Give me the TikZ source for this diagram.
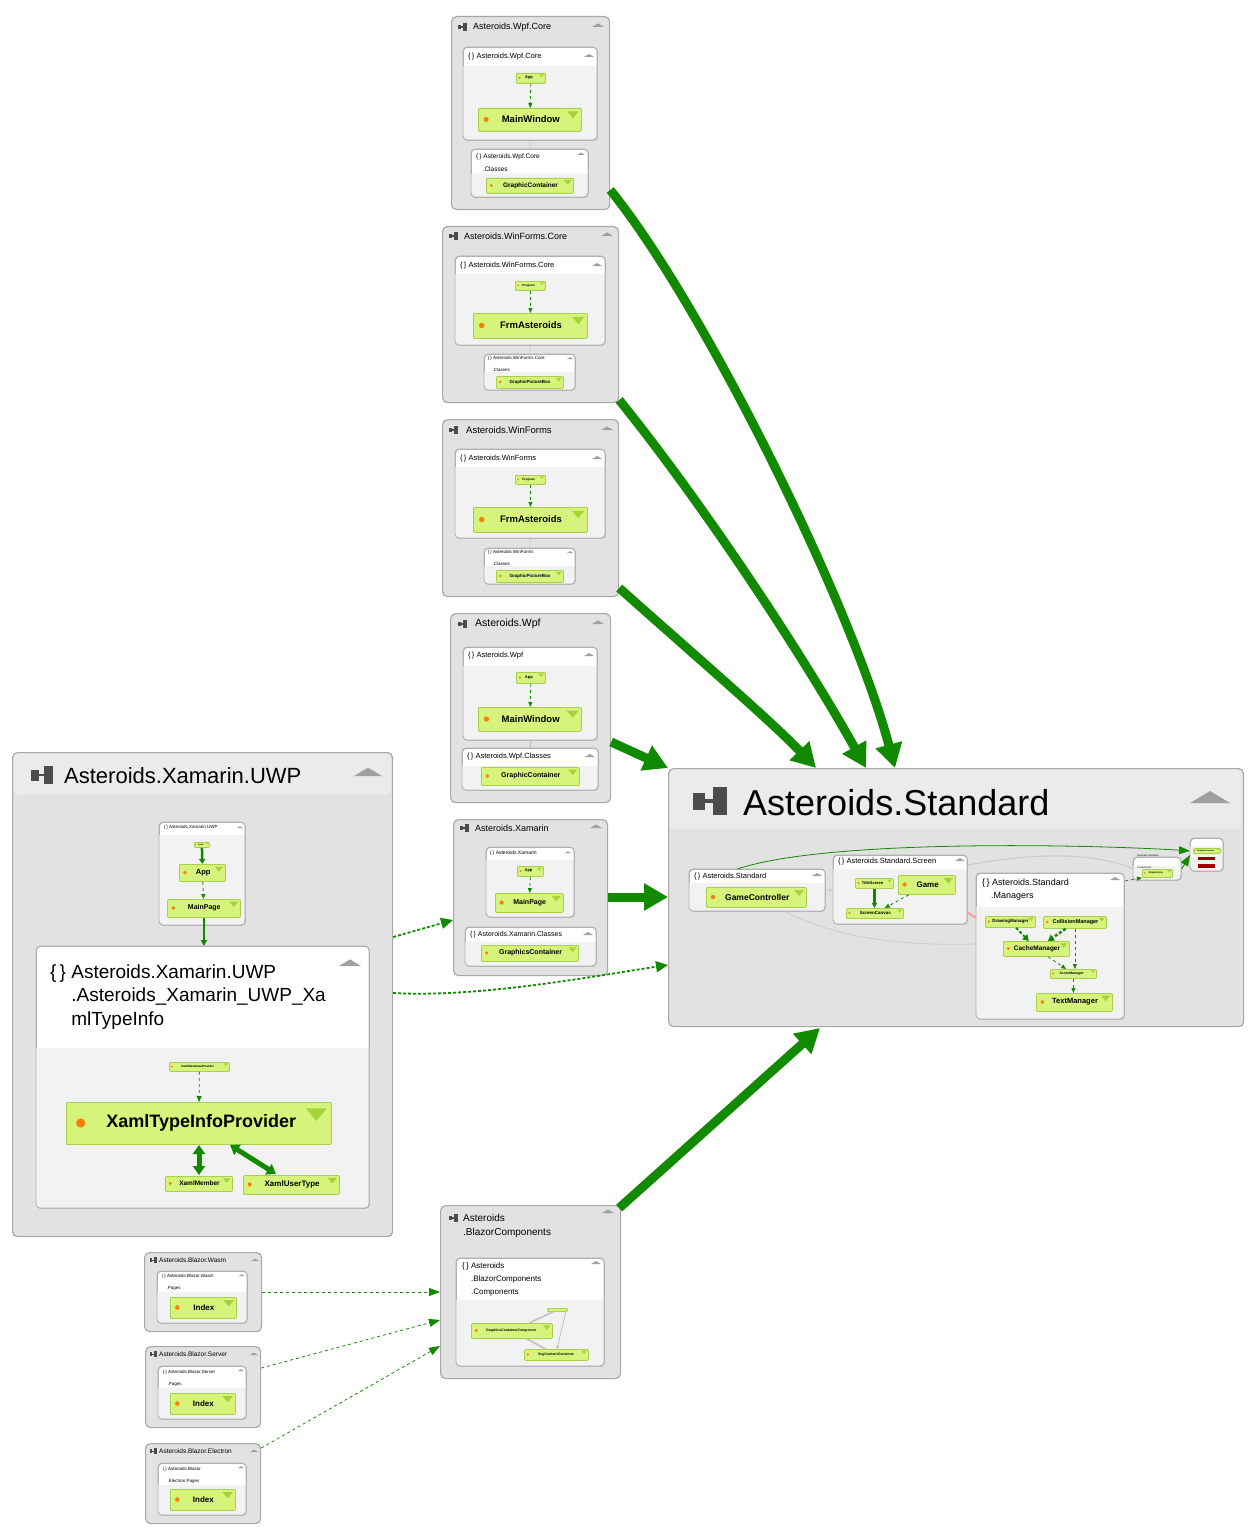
\documentclass[tikz,border=0pt]{standalone}
\usepackage{fontspec}
\setmainfont{Liberation Sans}
\usetikzlibrary{arrows.meta}
\definecolor{outerfill}{HTML}{E2E2E2}
\definecolor{outerdraw}{HTML}{A8A8A8}
\definecolor{nsbody}{HTML}{F2F2F2}
\definecolor{clsfill}{HTML}{D6F47C}
\definecolor{clsdraw}{HTML}{A9CF4C}
\definecolor{clstri}{HTML}{A6D23A}
\definecolor{eg}{HTML}{128A00}
\definecolor{tri}{HTML}{A0A0A0}
\newcommand\fs[1]{\fontsize{#1}{#1}\selectfont}
\tikzset{
  outer/.style={draw=outerdraw,fill=outerfill,rounded corners=5pt,line width=1.2pt,inner sep=0pt},
  ns/.style={draw=outerdraw!90,fill=white,rounded corners=4pt,line width=0.8pt,inner sep=0pt},
  cls/.style={draw=clsdraw,fill=clsfill,line width=0.8pt,inner sep=0pt,rounded corners=1pt},
  big/.style={-{Triangle[length=24pt,width=26pt]},line width=9pt,draw=eg},
  dep/.style={-{Triangle[length=12pt,width=11pt]},densely dashed,line width=1.8pt,draw=eg},
  thin/.style={-{Triangle[length=11pt,width=8pt]},dashed,line width=0.8pt,draw=eg},
  ttl/.style={anchor=west,inner sep=0pt,align=left},
}
\newcommand\ob[5]{\node[outer,anchor=north west,minimum width={(#4-#2)*1pt},minimum height={(#5-#3)*1pt}] (#1) at (#2,#3) {};}
\newcommand\nsb[6]{\node[ns,anchor=north west,minimum width={(#4-#2)*1pt},minimum height={(#5-#3)*1pt}] (#1) at (#2,#3) {};
  \fill[nsbody] (#2,#6) -- (#4,#6) [rounded corners=4pt]-- (#4,#5) -- (#2,#5) [sharp corners]-- cycle;
  \draw[outerdraw!90,rounded corners=4pt,line width=0.8pt] (#2,#3) rectangle (#4,#5);}
\newcommand\cls[7]{\node[cls,anchor=north west,minimum width={(#4-#2)*1pt},minimum height={(#5-#3)*1pt}] (#1) at (#2,#3) {};
  \fill[clstri] ({#4-(#5-#3)*0.6},{#3+(#5-#3)*0.15}) -- ({#4-(#5-#3)*0.1},{#3+(#5-#3)*0.15}) -- ({#4-(#5-#3)*0.35},{#3+(#5-#3)*0.45}) -- cycle;
  \fill[orange!85!brown] ({#2+(#5-#3)*0.35},{(#3+#5)/2}) circle ({(#5-#3)*0.11});
  \node[inner sep=0pt] at ({(#2+#4)/2-(#5-#3)*0.15},{(#3+#5)/2}) {\fs{#6}\bfseries #7};}
\newcommand\tri[3]{\fill[tri] ({#1-#3},#2) -- ({#1+#3},#2) -- (#1,{#2-#3*0.6}) -- cycle;}
\newcommand\ic[3]{\fill[black!70] (#1,{#2-#3*0.25}) rectangle ({#1+#3*0.35},{#2+#3*0.25});
  \fill[black!70] ({#1+#3*0.35},{#2-#3*0.06}) rectangle ({#1+#3*0.6},{#2+#3*0.06});
  \fill[black!70] ({#1+#3*0.6},{#2-#3*0.4}) rectangle ({#1+#3},{#2+#3*0.4});}
\begin{document}
\begin{tikzpicture}[x=1pt,y=-1pt]
\useasboundingbox (0,0) rectangle (1256,1538);
\fill[white] (0,0) rectangle (1256,1538);

% ---------- Asteroids.Wpf.Core
\ob{wpfcore}{451}{16}{609}{209}
\ic{458}{27}{9}\node[ttl] at (473,27) {\fs{9}Asteroids.Wpf.Core};\tri{598}{27}{6}
\nsb{wpfcorens}{463}{47}{597}{140}{66}
\node[ttl] at (468,57) {\fs{7.5}\{\,\} Asteroids.Wpf.Core};\tri{589}{57}{5}
\cls{wpfcoreapp}{516}{73}{545}{83}{4}{App}
\cls{wpfcoremw}{478}{108}{581}{131}{9.5}{\quad MainWindow}
\nsb{wpfcorecl}{471}{149}{588}{197}{174}
\node[ttl] at (476,163) {\fs{6.5}\{\,\} Asteroids.Wpf.Core\\[1pt]\fs{6.5}\quad .Classes};\tri{581}{155}{4}
\cls{wpfcoregc}{486}{178}{573}{193}{6.5}{\quad GraphicContainer}
\draw[thin,-{Triangle[length=5pt,width=4pt]}] (wpfcoreapp) -- (wpfcoremw);
\draw[gray!50] (wpfcorens) -- (wpfcorecl);

% ---------- Asteroids.WinForms.Core
\ob{wfcore}{442}{226}{618}{402}
\ic{449}{236}{9}\node[ttl] at (464,236) {\fs{9}Asteroids.WinForms.Core};\tri{607}{236}{6}
\nsb{wfcorens}{455}{256}{605}{345}{274}
\node[ttl] at (460,266) {\fs{7.5}\{\,\} Asteroids.WinForms.Core};\tri{597}{266}{5}
\cls{wfcoreprog}{515}{281}{545}{290}{3}{Program}
\cls{wfcorefrm}{473}{313}{587}{338}{9.5}{\quad FrmAsteroids}
\nsb{wfcorecl}{484}{354}{575}{390}{372}
\node[ttl] at (488,364) {\fs{4.5}\{\,\} Asteroids.WinForms.Core\\\fs{4.5}\quad .Classes};\tri{570}{359}{3}
\cls{wfcoregp}{496}{376}{563}{388}{4.5}{\quad GraphicPictureBox}
\draw[thin,-{Triangle[length=5pt,width=4pt]}] (wfcoreprog) -- (wfcorefrm);
\draw[gray!50] (wfcorens) -- (wfcorecl);

% ---------- Asteroids.WinForms
\ob{wf}{442}{419}{618}{596}
\ic{449}{430}{9}\node[ttl] at (466,430) {\fs{9.5}Asteroids.WinForms};\tri{607}{430}{6}
\nsb{wfns}{455}{449}{605}{538}{467}
\node[ttl] at (460,459) {\fs{7.5}\{\,\} Asteroids.WinForms};\tri{597}{459}{5}
\cls{wfprog}{515}{475}{545}{484}{3}{Program}
\cls{wffrm}{473}{507}{587}{532}{9.5}{\quad FrmAsteroids}
\nsb{wfcl}{484}{548}{575}{584}{566}
\node[ttl] at (488,558) {\fs{4.5}\{\,\} Asteroids.WinForms\\\fs{4.5}\quad .Classes};\tri{570}{553}{3}
\cls{wfgp}{496}{570}{563}{582}{4.5}{\quad GraphicPictureBox}
\draw[thin,-{Triangle[length=5pt,width=4pt]}] (wfprog) -- (wffrm);
\draw[gray!50] (wfns) -- (wfcl);

% ---------- Asteroids.Wpf
\ob{wpf}{450}{613}{610}{802}
\ic{458}{624}{9}\node[ttl] at (475,624) {\fs{10.5}Asteroids.Wpf};\tri{598}{624}{6}
\nsb{wpfns}{463}{647}{597}{740}{666}
\node[ttl] at (468,656) {\fs{7.5}\{\,\} Asteroids.Wpf};\tri{589}{656}{5}
\cls{wpfapp}{516}{672}{545}{683}{4}{App}
\cls{wpfmw}{478}{707}{581}{731}{9.5}{\quad MainWindow}
\nsb{wpfcl}{462}{748}{598}{790}{766}
\node[ttl] at (467,757) {\fs{7.5}\{\,\} Asteroids.Wpf.Classes};\tri{590}{757}{5}
\cls{wpfgc}{481}{767}{579}{785}{7}{\quad GraphicContainer}
\draw[thin,-{Triangle[length=5pt,width=4pt]}] (wpfapp) -- (wpfmw);
\draw[gray!50] (wpfns) -- (wpfcl);

% ---------- Asteroids.Xamarin
\ob{xam}{453}{819}{607}{975}
\ic{460}{828}{9}\node[ttl] at (475,828) {\fs{9}Asteroids.Xamarin};\tri{596}{828}{6}
\nsb{xamns}{486}{847}{574}{917}{860}
\node[ttl] at (490,853) {\fs{5}\{\,\} Asteroids.Xamarin};\tri{568}{853}{3}
\cls{xamapp}{517}{866}{543}{876}{4}{App}
\cls{xammp}{495}{893}{563}{912}{7}{\quad MainPage}
\nsb{xamcl}{465}{927}{596}{966}{942}
\node[ttl] at (470,935) {\fs{7}\{\,\} Asteroids.Xamarin.Classes};\tri{588}{935}{5}
\cls{xamgc}{481}{945}{578}{961}{7}{\quad GraphicsContainer}
\draw[thin,-{Triangle[length=5pt,width=4pt]}] (xamapp) -- (xammp);

% ---------- Asteroids.Standard
\ob{std}{668}{768}{1243}{1026}
\fill[white!92!black,rounded corners=5pt] (669.5,769.5) rectangle (1241.5,830);
\fill[outerfill] (669.5,829) rectangle (1241.5,840);
\ic{693}{801}{34}\node[ttl] at (743,803) {\fs{36}Asteroids.Standard};\tri{1210}{803}{20}
\nsb{stdns}{689}{869}{825}{911}{883}
\node[ttl] at (694,877) {\fs{7.5}\{\,\} Asteroids.Standard};\tri{817}{876}{5}
\cls{gc}{706}{887}{806}{907}{8.5}{\quad GameController}
\nsb{scr}{833}{855}{967}{924}{869}
\node[ttl] at (838,862) {\fs{7.5}\{\,\} Asteroids.Standard.Screen};\tri{960}{861}{5}
\cls{ts}{855}{878}{893}{888}{4}{TitleScreen}
\cls{game}{898}{875}{955}{894}{8}{\quad Game}
\cls{sc}{846}{908}{903}{918}{4.5}{\quad ScreenCanvas}
\nsb{mgr}{976}{873}{1124}{1019}{907}
\node[ttl] at (982,890) {\fs{9}\{\,\} Asteroids.Standard\\[1pt]\fs{9}\quad .Managers};\tri{1115}{880}{5}
\cls{dm}{985}{916}{1035}{927}{4.5}{\quad DrawingManager}
\cls{cm}{1043}{916}{1106}{928}{5.5}{\quad CollisionManager}
\cls{cam}{1003}{941}{1069}{956}{6.5}{\quad CacheManager}
\cls{sm}{1050}{969}{1096}{978}{3.5}{ScoreManager}
\cls{tm}{1036}{993}{1112}{1011}{7.5}{\quad TextManager}
\nsb{el}{1133}{857}{1181}{880}{866}
\node[ttl] at (1137,862) {\fs{2.5}Asteroids.Standard\\\fs{2.5}Components};
\cls{gl}{1142}{869}{1172}{877}{2.5}{GraphicLine}
\nsb{iface}{1190}{838}{1223}{871}{846}
\cls{ifc}{1193}{848}{1220}{853}{2}{IGraphicContainer}
\fill[red!60!black] (1198,857) rectangle (1215,860);
\fill[red!60!black] (1198,864) rectangle (1215,868);
\draw[-{Triangle[length=5pt,width=5pt]},line width=2.2pt,eg] (ts.south) -- (sc.north -| ts.south);
\draw[thin,-{Triangle[length=5pt,width=4pt]}] (game) -- (sc);
\draw[-{Triangle[length=6pt,width=7pt]},densely dashed,line width=2pt,eg] (dm) -- (cam);
\draw[-{Triangle[length=6pt,width=7pt]},densely dashed,line width=2.5pt,eg] (cm) -- (cam);
\draw[thin,-{Triangle[length=5pt,width=4pt]}] (cm.south) -- (sm.north -| cm.south);
\draw[thin,-{Triangle[length=5pt,width=4pt]}] (cam) -- (sm);
\draw[thin,-{Triangle[length=5pt,width=4pt]}] (sm) -- (sm |- tm.north);
\draw[thin,-{Triangle[length=5pt,width=4pt]}] (mgr.north east) ++(0,8) -- (gl.south west);
\draw[gray!40,line width=0.8pt,-{Triangle[length=4pt,width=3pt]}] (stdns) -- (scr);
\draw[gray!40,line width=0.8pt] (stdns.south east) ++(-40,0) .. controls (850,945) and (930,945) .. (mgr.west |- 0,944);
\draw[gray!40,line width=1.2pt] (scr.north east) ++(0,10) .. controls (1050,850) and (1100,855) .. (el.west);
\draw[thin,solid] (stdns.north) ++(-20,0) .. controls (830,838) and (1100,845) .. (iface.west |- ifc);
\draw[thin,solid] (el.east) -- (iface.west);
\draw[red!40,line width=2pt] (967,912) -- (976,918);

% ---------- Asteroids.Xamarin.UWP
\ob{uwp}{12}{752}{392}{1236}
\fill[white!92!black,rounded corners=5pt] (13.5,753.5) rectangle (390.5,795);
\ic{31}{775}{22}\node[ttl] at (64,776) {\fs{22}Asteroids.Xamarin.UWP};\tri{368}{776}{14}
\nsb{uwpns}{159}{822}{245}{925}{835}
\node[ttl] at (164,827) {\fs{4.5}\{\,\} Asteroids.Xamarin.UWP};\tri{240}{828}{3}
\cls{uwpfix}{194}{842}{209}{847}{2}{Fixed}
\cls{uwpapp}{179}{864}{225}{881}{7.5}{\quad App}
\cls{uwpmp}{167}{899}{240}{917}{7}{\quad MainPage}
\draw[-{Triangle[length=5pt,width=6pt]},line width=2.5pt,eg] (uwpfix) -- (uwpapp);
\draw[thin,-{Triangle[length=5pt,width=4pt]}] (uwpapp) -- (uwpmp);
\nsb{uwpxt}{36}{946}{369}{1208}{1048}
\node[ttl] at (50,997) {\fs{19}\{\,\} Asteroids.Xamarin.UWP\\[5pt]\fs{19}\phantom{\{\,\} }.Asteroids\_Xamarin\_UWP\_Xa\\[5pt]\fs{19}\phantom{\{\,\} }mlTypeInfo};\tri{350}{966}{11}
\cls{xmdp}{169}{1062}{229}{1071}{3}{XamlMetaDataProvider}
\cls{xtip}{66}{1102}{331}{1144}{18}{\quad XamlTypeInfoProvider}
\cls{xm}{165}{1176}{232}{1191}{6.5}{\quad XamlMember}
\cls{xut}{243}{1175}{339}{1194}{8}{\quad XamlUserType}
\draw[-{Triangle[length=6pt,width=6pt]},line width=2pt,eg] (uwpmp) -- (uwpxt.north -| uwpmp);
\draw[thin,-{Triangle[length=6pt,width=5pt]}] (xmdp) -- (xtip);
\draw[{Triangle[length=9pt,width=12pt]}-{Triangle[length=9pt,width=12pt]},line width=5pt,eg] (199,1145) -- (199,1175);
\draw[{Triangle[length=9pt,width=12pt]}-{Triangle[length=9pt,width=12pt]},line width=5pt,eg] (230,1145) -- (276,1174);

% ---------- BlazorComponents
\ob{bc}{440}{1205}{620}{1378}
\ic{449}{1218}{9}\node[ttl] at (463,1226) {\fs{10}Asteroids\\[2pt]\fs{10}.BlazorComponents};\tri{608}{1213}{6}
\nsb{bcns}{456}{1258}{604}{1366}{1300}
\node[ttl] at (462,1279) {\fs{8}\{\,\} Asteroids\\[1pt]\fs{8}\phantom{\{\,\} }.BlazorComponents\\[1pt]\fs{8}\phantom{\{\,\} }.Components};\tri{596}{1264}{5}
\cls{bctiny}{547}{1308}{567}{1311}{1.5}{}
\cls{gcc}{471}{1323}{552}{1338}{3.5}{\quad GraphicsContainerComponen}
\cls{svg}{524}{1349}{588}{1360}{3.5}{\quad SvgContentContainer}
\draw[gray!50,line width=1.5pt] (bctiny) -- (gcc);
\draw[gray!50,line width=0.8pt,-{Triangle[length=3pt,width=3pt]}] (bctiny.south east) ++(-2,0) -- (557,1349);
\draw[gray!50,line width=1.5pt] (gcc) -- (svg);

% ---------- Blazor clients
\ob{wasm}{144}{1252}{261}{1331}
\ic{150}{1260}{7}\node[ttl] at (159,1260) {\fs{6.5}Asteroids.Blazor.Wasm};\tri{255}{1261}{4}
\nsb{wasmns}{157}{1271}{247}{1323}{1292}
\node[ttl] at (162,1282) {\fs{4.5}\{\,\} Asteroids.Blazor.Wasm\\\fs{4.5}\quad .Pages};\tri{242}{1276}{3}
\cls{wasmi}{170}{1297}{236}{1318}{8}{\quad Index}
\ob{srv}{145}{1346}{260}{1427}
\ic{150}{1354}{7}\node[ttl] at (159,1354) {\fs{6.5}Asteroids.Blazor.Server};\tri{254}{1355}{4}
\nsb{srvns}{158}{1366}{246}{1419}{1388}
\node[ttl] at (163,1378) {\fs{4.5}\{\,\} Asteroids.Blazor.Server\\\fs{4.5}\quad .Pages};\tri{241}{1371}{3}
\cls{srvi}{170}{1393}{235}{1414}{8}{\quad Index}
\ob{ele}{145}{1443}{260}{1523}
\ic{150}{1451}{7}\node[ttl] at (159,1451) {\fs{6.5}Asteroids.Blazor.Electron};\tri{254}{1452}{4}
\nsb{elens}{158}{1463}{246}{1515}{1485}
\node[ttl] at (163,1475) {\fs{4.5}\{\,\} Asteroids.Blazor\\\fs{4.5}\quad .Electron.Pages};\tri{241}{1468}{3}
\cls{elei}{170}{1489}{235}{1510}{8}{\quad Index}

% ---------- dependencies
\draw[big] (wpfcore.east |- 0,190) .. controls (700,300) and (850,600) .. (895,768);
\draw[big] (wfcore.east |- 0,400) .. controls (700,500) and (800,650) .. (866,768);
\draw[big] (wf.east |- 0,588) .. controls (700,660) and (770,720) .. (816,768);
\draw[big] (wpf.east |- 0,742) -- (std.north west);
\draw[big] (xam.east |- 0,897) -- (std.west |- 0,897);
\draw[big] (bc.north east) ++(-2,3) -- (820,1028);
\draw[dep] (uwp.east |- 0,937) -- (xam.west |- 0,920);
\draw[dep] (uwp.east |- 0,993) .. controls (480,998) and (600,975) .. (std.west |- 0,965);
\draw[thin] (wasm.east |- 0,1292) -- (bc.west |- 0,1292);
\draw[thin] (srv.east |- 0,1368) -- (bc.west |- 0,1320);
\draw[thin] (ele.east |- 0,1448) -- (bc.west |- 0,1346);
\end{tikzpicture}
\end{document}
